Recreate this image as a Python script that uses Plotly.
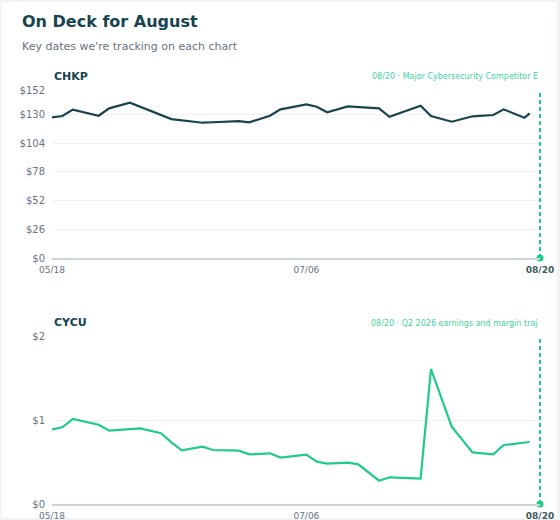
from datetime import date
import plotly.graph_objects as go

W, H = 560, 520

# ---- data ----
chkp_dates = ["2026-05-18", "2026-05-20", "2026-05-22", "2026-05-27", "2026-05-29", "2026-06-02",
              "2026-06-10", "2026-06-16", "2026-06-18", "2026-06-23", "2026-06-25", "2026-06-29",
              "2026-07-01", "2026-07-06", "2026-07-08", "2026-07-10", "2026-07-14", "2026-07-20",
              "2026-07-22", "2026-07-28", "2026-07-30", "2026-08-03", "2026-08-07", "2026-08-11",
              "2026-08-13", "2026-08-17", "2026-08-18"]
chkp_close = [127.3, 128.5, 134.2, 128.7, 135.4, 140.5, 125.7, 122.4, 122.8, 123.9, 122.8, 128.7,
              134.5, 139.0, 136.9, 131.8, 137.2, 135.4, 127.8, 137.8, 128.5, 123.3, 128.2, 129.4,
              134.5, 126.9, 130.9]

cycu_dates = ["2026-05-18", "2026-05-20", "2026-05-22", "2026-05-27", "2026-05-29", "2026-06-04",
              "2026-06-08", "2026-06-10", "2026-06-12", "2026-06-16", "2026-06-18", "2026-06-23",
              "2026-06-25", "2026-06-29", "2026-07-01", "2026-07-06", "2026-07-08", "2026-07-10",
              "2026-07-14", "2026-07-16", "2026-07-20", "2026-07-22", "2026-07-28", "2026-07-30",
              "2026-08-03", "2026-08-05", "2026-08-07", "2026-08-11", "2026-08-13", "2026-08-18"]
cycu_close = [0.889, 0.913, 1.012, 0.944, 0.873, 0.901, 0.842, 0.734, 0.639, 0.682, 0.643, 0.635,
              0.591, 0.603, 0.552, 0.587, 0.504, 0.480, 0.492, 0.472, 0.277, 0.318, 0.301, 1.607,
              0.920, 0.774, 0.615, 0.591, 0.702, 0.738]

x_range = ["2026-05-18", "2026-08-20"]
x_tickvals = ["2026-05-18", "2026-07-06", "2026-08-20"]
x_ticktext = ["05/18", "07/06", "<b><span style='color:#3d5a61'>08/20</span></b>"]

chkp_tickvals = [0, 26, 52, 78, 104, 130, 152]
chkp_ticktext = ["$0", "$26", "$52", "$78", "$104", "$130", "$152"]
cycu_tickvals = [0, 1, 2]
cycu_ticktext = ["$0", "$1", "$2"]

event_date = "2026-08-20"
chkp_event = "08/20 · Major Cybersecurity Competitor E"
cycu_event = "08/20 · Q2 2026 earnings and margin traj"

title = "On Deck for August"
subtitle = "Key dates we're tracking on each chart"

# ---- style ----
DARK = "#17444f"
GREEN = "#1fcb8b"
GREEN_TXT = "#3fd39d"
GRAY = "#6b7280"
GRID = "#eef2f2"
AXIS = "#c9d5d7"
FONT = "DejaVu Sans"


def px_x(px):
    return px / W


def px_y(py):
    return 1 - py / H


# event position as a fraction of the x-axis domain (so the line is not clipped at the edge)
_d0, _d1 = date.fromisoformat(x_range[0]), date.fromisoformat(x_range[1])
event_frac = (date.fromisoformat(event_date) - _d0).days / (_d1 - _d0).days

fig = go.Figure()

fig.add_trace(go.Scatter(x=chkp_dates, y=chkp_close, mode="lines",
                         line=dict(color=DARK, width=2.2), xaxis="x", yaxis="y",
                         showlegend=False, hoverinfo="skip"))
fig.add_trace(go.Scatter(x=cycu_dates, y=cycu_close, mode="lines",
                         line=dict(color=GREEN, width=2.2), xaxis="x2", yaxis="y2",
                         showlegend=False, hoverinfo="skip"))

xdom = [px_x(52), px_x(540)]
xaxis_common = dict(type="date", range=x_range, tickvals=x_tickvals, ticktext=x_ticktext,
                    showgrid=False, zeroline=False, showline=True, linecolor=AXIS, linewidth=2,
                    ticks="", tickfont=dict(family=FONT, size=9, color=GRAY),
                    ticklabelstandoff=2, domain=xdom, fixedrange=True, automargin=False)
yaxis_common = dict(showgrid=True, gridcolor=GRID, gridwidth=1, zeroline=False, showline=False,
                    ticks="", tickfont=dict(family=FONT, size=10, color=GRAY),
                    ticklabelstandoff=6, fixedrange=True, automargin=False)

shapes = [
    dict(type="rect", xref="paper", yref="paper", x0=px_x(2), x1=px_x(557),
         y0=px_y(518), y1=px_y(2), fillcolor="white", line=dict(width=0), layer="below"),
]
for xa, ya in (("x", "y"), ("x2", "y2")):
    shapes.append(dict(type="line", xref=f"{xa} domain", yref=f"{ya} domain",
                       x0=event_frac, x1=event_frac, y0=0, y1=1,
                       line=dict(color=GREEN, width=2, dash="4px,3px")))

fig.add_trace(go.Scatter(x=[event_date], y=[0], mode="markers",
                         marker=dict(color=GREEN, size=7), xaxis="x", yaxis="y",
                         cliponaxis=False, showlegend=False, hoverinfo="skip"))
fig.add_trace(go.Scatter(x=[event_date], y=[0], mode="markers",
                         marker=dict(color=GREEN, size=7), xaxis="x2", yaxis="y2",
                         cliponaxis=False, showlegend=False, hoverinfo="skip"))

fig.update_layout(
    width=W, height=H, autosize=False,
    margin=dict(l=0, r=0, t=0, b=0, pad=0, autoexpand=False),
    paper_bgcolor="#f0f2f4",
    plot_bgcolor="rgba(0,0,0,0)",
    font=dict(family=FONT),
    xaxis=dict(**xaxis_common, anchor="y"),
    yaxis=dict(**yaxis_common, range=[0, 152], tickvals=chkp_tickvals, ticktext=chkp_ticktext,
               domain=[px_y(258), px_y(90)], anchor="x"),
    xaxis2=dict(**xaxis_common, anchor="y2"),
    yaxis2=dict(**yaxis_common, range=[0, 2], tickvals=cycu_tickvals, ticktext=cycu_ticktext,
                domain=[px_y(504), px_y(336)], anchor="x2"),
    shapes=shapes,
    annotations=[
        dict(text=f"<b>{title}</b>", xref="paper", yref="paper", x=px_x(20), y=px_y(22),
             xanchor="left", yanchor="middle", showarrow=False,
             font=dict(family=FONT, size=16, color=DARK)),
        dict(text=subtitle, xref="paper", yref="paper", x=px_x(20), y=px_y(46),
             xanchor="left", yanchor="middle", showarrow=False,
             font=dict(family=FONT, size=11, color=GRAY)),
        dict(text="<b>CHKP</b>", xref="paper", yref="paper", x=px_x(52), y=px_y(76),
             xanchor="left", yanchor="middle", showarrow=False,
             font=dict(family=FONT, size=11, color=DARK)),
        dict(text=chkp_event, xref="paper", yref="paper", x=px_x(540), y=px_y(76),
             xanchor="right", yanchor="middle", showarrow=False,
             font=dict(family=FONT, size=8, color=GREEN_TXT)),
        dict(text="<b>CYCU</b>", xref="paper", yref="paper", x=px_x(52), y=px_y(322),
             xanchor="left", yanchor="middle", showarrow=False,
             font=dict(family=FONT, size=11, color=DARK)),
        dict(text=cycu_event, xref="paper", yref="paper", x=px_x(540), y=px_y(323),
             xanchor="right", yanchor="middle", showarrow=False,
             font=dict(family=FONT, size=8, color=GREEN_TXT)),
    ],
)

fig.write_html(
    "out.html",
    config={"displayModeBar": False},
    post_script="document.body.style.margin='0';document.body.style.overflow='hidden';",
)
